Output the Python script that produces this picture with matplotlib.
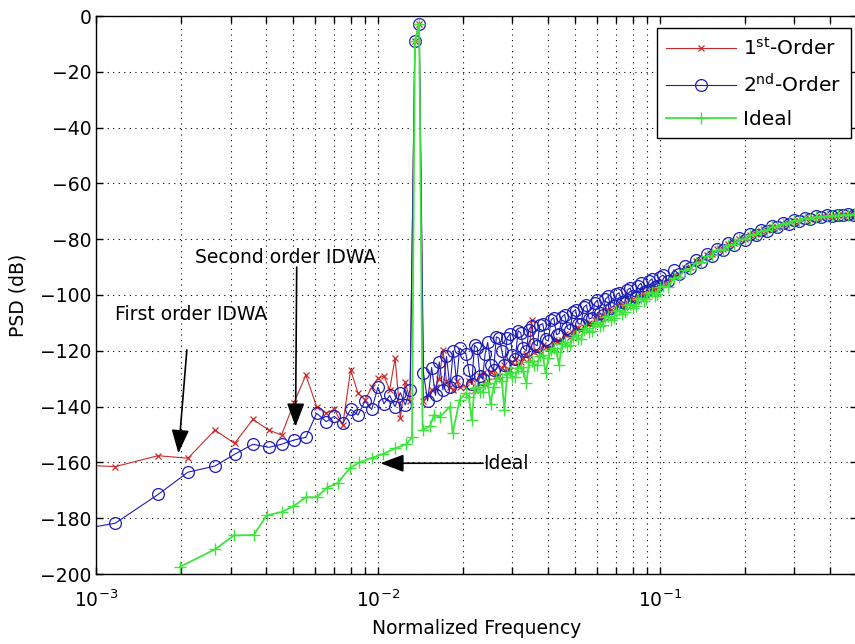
import matplotlib
matplotlib.use("Agg")
import matplotlib.pyplot as plt
import numpy as np
from matplotlib.ticker import NullLocator

plt.rcParams["font.family"] = "DejaVu Sans"
plt.rcParams["mathtext.default"] = "regular"
plt.rcParams["font.size"] = 13.5

# low frequency bins (1st / 2nd order)
f_lo = [0.00068, 0.00117, 0.00166, 0.00212, 0.00264, 0.0031, 0.0036, 0.0041, 0.00455, 0.00503,
        0.00555, 0.00606, 0.00656, 0.0070, 0.0075, 0.0080, 0.0085, 0.0090, 0.0095, 0.0100,
        0.0105, 0.0110, 0.0115, 0.0120, 0.0125, 0.0130, 0.01352, 0.0140, 0.0145, 0.0150,
        0.0155, 0.0160, 0.0165, 0.0170, 0.0175, 0.0180, 0.0185, 0.0190, 0.0195]
first_lo = [-160.5, -161.5, -157.6, -158.5, -148.4, -153.2, -144.6, -148.4, -150.2, -138.8,
            -128.7, -140, -142.3, -141, -146.6, -126.9, -135.2, -137.6, -133, -129.9,
            -129, -134, -122.7, -144, -131.1, -138, -9, -3, -138, -136,
            -134, -132.9, -130, -119.7, -131, -133, -134, -131, -133]
second_lo = [-186, -181.8, -171.5, -163.5, -161.3, -157.1, -153.5, -154.6, -153.5, -152,
             -151, -142.4, -145.4, -143.5, -146, -141, -143, -138, -141, -133,
             -139, -136, -140, -135, -139.4, -134, -9, -3, -128, -138,
             -126, -136, -124, -134, -122, -133, -120, -131, -119]

# ideal, low frequencies
f_ideal_lo = [0.00199, 0.00264, 0.00308, 0.00363, 0.00403, 0.00455, 0.0050, 0.00555, 0.00606, 0.0066,
              0.0072, 0.00795, 0.0086, 0.0095, 0.0104, 0.0115, 0.0126, 0.0132, 0.01352, 0.0140,
              0.0144, 0.0153, 0.0158, 0.0166, 0.0180, 0.0184, 0.0195]
ideal_lo = [-197.4, -191.2, -186.2, -186, -179, -177.8, -175.8, -172.5, -172.5, -169,
            -167.4, -162, -160, -158.4, -157, -155, -153.5, -151, -9, -3,
            -148.4, -147, -143, -143.6, -140, -149.5, -137.5]

# high frequencies (all series)
f_hi = [0.0205, 0.0215, 0.0225, 0.0235, 0.0245, 0.0257, 0.0269, 0.0281, 0.0294, 0.0307,
        0.0321, 0.0336, 0.0351, 0.0367, 0.0384, 0.0402, 0.0420, 0.0439, 0.0459, 0.048,
        0.0502, 0.0525, 0.0549, 0.0574, 0.060, 0.0627, 0.0656, 0.0686, 0.0717, 0.075,
        0.0784, 0.082, 0.0857, 0.0896, 0.0937, 0.098, 0.1025, 0.107, 0.112, 0.117,
        0.1225, 0.128, 0.134, 0.140, 0.1465, 0.153, 0.160, 0.1675, 0.175, 0.183,
        0.1915, 0.200, 0.209, 0.219, 0.229, 0.239, 0.250, 0.261, 0.273, 0.286,
        0.299, 0.312, 0.327, 0.342, 0.357, 0.373, 0.390, 0.408, 0.427, 0.446,
        0.466, 0.487, 0.5]
first_hi = [-132.9, -130, -133, -128, -131, -127, -129, -125, -127, -123,
            -124, -121, -109, -120, -118, -119, -116, -117, -114, -115,
            -112, -112.5, -110, -110.5, -107.5, -108, -105.5, -106, -103.5, -104,
            -101.5, -102, -99.5, -100, -97.5, -98, -95.5, -95.8, -93, -92.8,
            -90.3, -90, -87.8, -87.6, -85.6, -85.4, -83.6, -83.5, -81.8, -81.5,
            -80, -79.8, -78.5, -78.3, -76.9, -76.8, -75.5, -75.5, -74.4, -74.2,
            -73.3, -73.3, -72.5, -72.6, -72, -72, -71.6, -71.6, -71.4, -71.3,
            -71.2, -71.1, -71.1]
second_hi = [-121, -132, -119, -130, -117, -127, -115.5, -125, -114, -123,
             -113.5, -120, -111, -118.2, -110.3, -116.5, -108.1, -113.8, -107, -112.5,
             -105.2, -110.4, -103.5, -108.2, -101.8, -107, -100.5, -104, -99.2, -102.8,
             -97.5, -100.6, -95.8, -98.5, -94.2, -96.8, -92.9, -95, -91, -92.5,
             -89.5, -90.4, -87.3, -88.3, -85.2, -86.2, -83.4, -84, -81.4, -82.1,
             -79.7, -80.3, -78.2, -78.6, -76.6, -77, -75.3, -75.7, -74.2, -74.4,
             -73.1, -73.4, -72.4, -72.7, -71.8, -72.2, -71.4, -71.7, -71.2, -71.5,
             -71, -71.3, -71.1]
ideal_hi = [-135, -144.8, -133, -134.7, -131.4, -132.9, -129.5, -141.2, -127.7, -129.3,
            -125.8, -131.7, -123.6, -125, -121.4, -122.7, -119, -125.1, -116.8, -118.1,
            -114.4, -115.7, -112, -113, -109.7, -110.7, -107.4, -108.3, -105.2, -106.1,
            -103.2, -103.9, -101, -101.6, -99, -99.5, -96.9, -97.2, -93.9, -93.6,
            -90.9, -90.8, -88.4, -88.2, -86, -85.8, -83.7, -83.9, -82, -81.8,
            -80.1, -80, -78.5, -78.3, -76.9, -76.8, -75.5, -75.5, -74.4, -74.2,
            -73.3, -73.3, -72.5, -72.6, -72, -72, -71.6, -71.6, -71.4, -71.3,
            -71.2, -71.1, -71.1]

# extra bins in the crowded 0.02-0.1 stretch
f_mid = [0.021, 0.022, 0.023, 0.024, 0.0251, 0.0263, 0.0275, 0.0287, 0.030, 0.0314,
         0.0328, 0.0343, 0.0359, 0.0375, 0.0393, 0.0411, 0.043, 0.0449, 0.047, 0.0491,
         0.0513, 0.0537, 0.0561, 0.0587, 0.0613, 0.0641, 0.0671, 0.0701, 0.0733, 0.0767,
         0.0802, 0.0838, 0.0876, 0.0916, 0.0958, 0.100]
first_mid = [-131, -134, -129, -132, -127.5, -129, -126, -127.5, -124, -125.5,
             -122.5, -123, -120.5, -121, -118.5, -119, -116.5, -116, -114.5, -113.5,
             -112, -111.5, -110, -109, -108, -106.5, -105.5, -104.5, -103.5, -102.5,
             -101.5, -100.5, -99.5, -98.5, -97.5, -96]
second_mid = [-127, -118, -129, -121, -125, -115, -120, -115.4, -121.6, -112.8,
              -119.1, -112.4, -117.6, -110.7, -115.9, -109, -114.2, -107.9, -112, -106.1,
              -110.3, -104.4, -108.6, -103, -106.6, -101.5, -104.5, -99.8, -102.4, -98.2,
              -100.5, -96.7, -98.9, -95.1, -97, -93.5]
ideal_mid = [-136.5, -133.5, -134.6, -131.8, -139, -130, -131, -128.2, -129.3, -126.3,
             -127.2, -124.1, -125, -121.9, -128, -119.6, -120.5, -117.4, -118.2, -115,
             -115.8, -112.6, -113.4, -110.3, -111.1, -108, -108.9, -105.8, -106.7, -103.6,
             -104.5, -101.4, -102.3, -99.3, -100.2, -97.2]

f_dense = np.concatenate([f_hi, f_mid])
order = np.argsort(f_dense)
f_dense = f_dense[order]
first_dense = np.concatenate([first_hi, first_mid])[order]
second_dense = np.concatenate([second_hi, second_mid])[order]
ideal_dense = np.concatenate([ideal_hi, ideal_mid])[order]

f12 = np.concatenate([f_lo, f_dense])
f3 = np.concatenate([f_ideal_lo, f_dense])
first = np.concatenate([first_lo, first_dense])
second = np.concatenate([second_lo, second_dense])
ideal = np.concatenate([ideal_lo, ideal_dense])

red = "#cc2a2a"
blue = "#1c1cb8"
green = "#3ee43e"

fig = plt.figure(figsize=(8.55, 6.44), dpi=100)
ax = fig.add_axes([96/855, 70/644, 761/855, 558/644])

ax.semilogx(f12, first, "-x", color=red, lw=0.8, ms=5, mew=0.9, label="1$^{st}$-Order")
ax.semilogx(f12, second, "-o", color=blue, lw=0.8, ms=8.5, mfc="none", mew=0.9,
            label="2$^{nd}$-Order")
ax.semilogx(f3, ideal, "-+", color=green, lw=1.3, ms=8, mew=1.0, label="Ideal")

ax.set_xlim(1e-3, 0.5)
ax.set_ylim(-200, 0)
ax.set_yticks(np.arange(-200, 1, 20))
ax.yaxis.set_minor_locator(NullLocator())
dots = (0, (1, 4))
ax.grid(True, which="both", axis="x", color="k", linestyle=dots, lw=0.8)
ax.grid(True, which="major", axis="y", color="k", linestyle=dots, lw=0.8)
ax.set_axisbelow(True)
ax.tick_params(which="both", direction="in", top=True, right=True, length=5, width=1)
ax.tick_params(axis="x", which="both", pad=11)
for s in ax.spines.values():
    s.set_linewidth(1.0)

ax.set_xlabel("Normalized Frequency", labelpad=6)
ax.set_ylabel("PSD (dB)", labelpad=9)

arrow = dict(arrowstyle="-|>,head_length=1.2,head_width=0.45", color="k", lw=1.2,
             shrinkA=0, shrinkB=0, mutation_scale=12)
ax.text(1.17e-3, -107, "First order IDWA", va="center", ha="left")
ax.annotate("", xy=(1.96e-3, -156.7), xytext=(2.1e-3, -119.7), arrowprops=arrow)
ax.text(2.24e-3, -86.4, "Second order IDWA", va="center", ha="left")
ax.annotate("", xy=(5.1e-3, -147.2), xytext=(5.15e-3, -90), arrowprops=arrow)
ax.text(0.0236, -160.3, "Ideal", va="center", ha="left")
ax.annotate("", xy=(0.0102, -160.3), xytext=(0.0236, -160.3), arrowprops=arrow)

leg = ax.legend(loc="upper right", bbox_to_anchor=(850.7/855, 1 - 28.3/644),
                bbox_transform=fig.transFigure, borderaxespad=0, fancybox=False,
                edgecolor="k", framealpha=1, handlelength=3.5, numpoints=1,
                labelspacing=0.68, borderpad=0.45, handletextpad=0.35, fontsize=14.5)
leg.get_frame().set_linewidth(1.0)

fig.savefig("out.png", dpi=100)
